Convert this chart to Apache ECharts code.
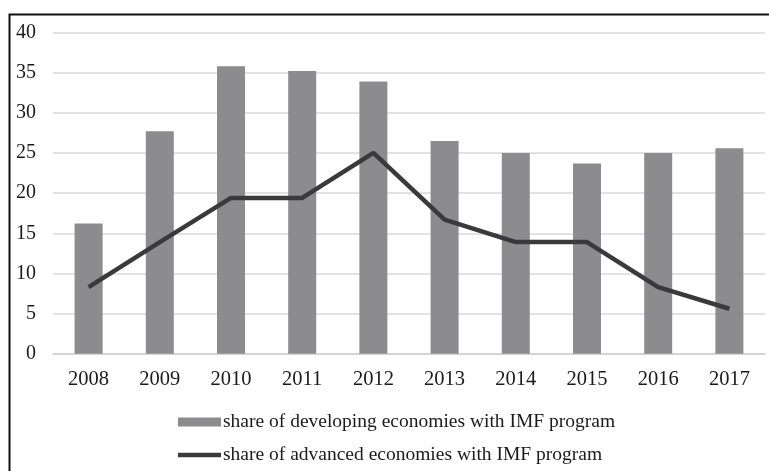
<!DOCTYPE html>
<html>
<head>
<meta charset="utf-8">
<script src="https://cdn.jsdelivr.net/npm/echarts@6/dist/echarts.min.js"></script>
<style>
  html, body { margin: 0; padding: 0; background: #fff; }
  #chart { width: 769px; height: 471px; }
</style>
</head>
<body>
<div id="chart"></div>
<script>
// data
var years = ['2008', '2009', '2010', '2011', '2012', '2013', '2014', '2015', '2016', '2017']
var developing = [16.2, 27.7, 35.8, 35.2, 33.9, 26.5, 25.0, 23.7, 25.0, 25.6]
var advanced = [8.3, 13.9, 19.4, 19.4, 25.0, 16.7, 13.9, 13.9, 8.3, 5.6]
var devName = 'share of developing economies with IMF program'
var advName = 'share of advanced economies with IMF program'

var serif = '"Liberation Serif", "DejaVu Serif", serif'
var chart = echarts.init(document.getElementById('chart'))

chart.setOption({
  animation: false,
  graphic: [
    // outer frame (only left and top edges visible in the picture)
    { type: 'rect', left: 7, top: 12, shape: { width: 800, height: 500 },
      style: { fill: 'none', stroke: '#111', lineWidth: 2 }, z: 100 }
  ],
  grid: { left: 53, right: 4, top: 32.5, bottom: 117.3 },
  legend: {
    orient: 'vertical',
    left: 178,
    top: 412,
    padding: 0,
    itemGap: 13,
    itemWidth: 43,
    itemHeight: 9,
    textStyle: { fontFamily: serif, fontSize: 19.5, color: '#1a1a1a', padding: [0, 0, 0, -3] },
    data: [
      { name: devName, icon: 'rect' },
      { name: advName, icon: 'path://M0,0 L10,0 L10,1 L0,1 Z' }
    ]
  },
  xAxis: {
    type: 'category',
    data: years,
    axisLine: { lineStyle: { color: '#d0d0d0', width: 1.5 } },
    axisTick: { show: false },
    axisLabel: { fontFamily: serif, fontSize: 20.5, color: '#1a1a1a', margin: 15 }
  },
  yAxis: {
    type: 'value',
    min: 0,
    max: 40,
    interval: 5,
    axisLine: { show: false },
    axisTick: { show: false },
    splitLine: { lineStyle: { color: '#d9d9d9', width: 1.5 } },
    axisLabel: { fontFamily: serif, fontSize: 20, color: '#1a1a1a', margin: 17 }
  },
  series: [
    {
      name: devName,
      type: 'bar',
      data: developing,
      barWidth: 28,
      itemStyle: { color: '#8c8c8f' }
    },
    {
      name: advName,
      type: 'line',
      data: advanced,
      symbol: 'none',
      lineStyle: { color: '#3a3a3a', width: 4.5 },
      itemStyle: { color: '#3a3a3a' }
    }
  ]
})
</script>
</body>
</html>
